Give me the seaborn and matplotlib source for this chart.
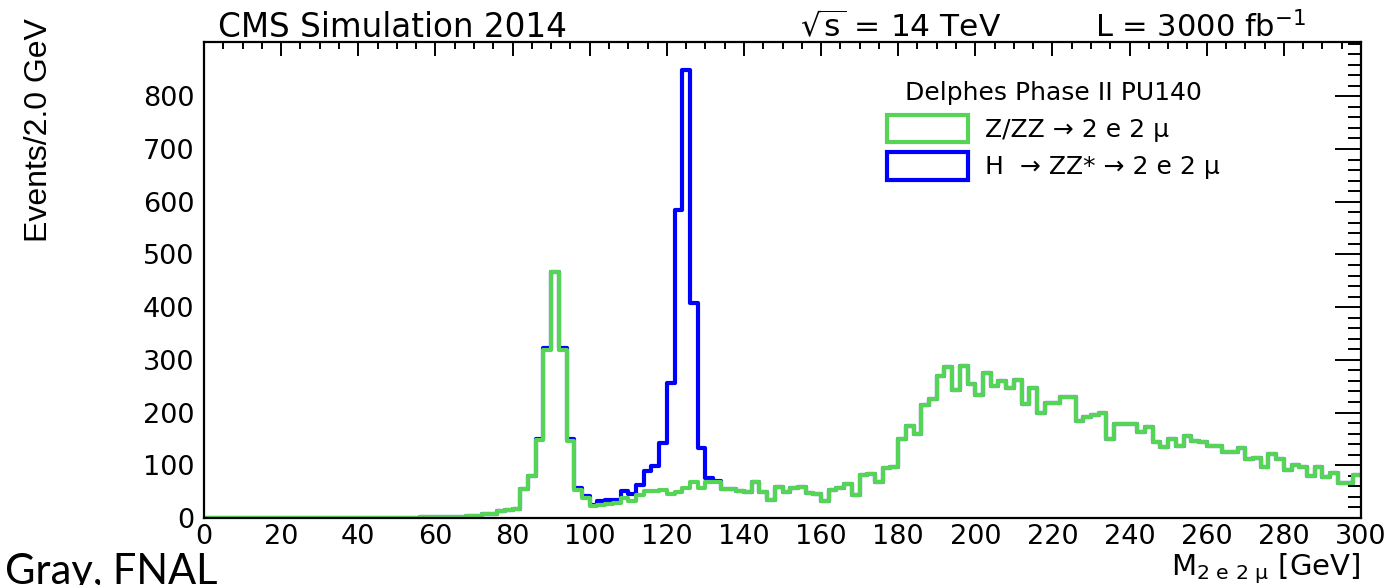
import numpy as np
import pandas as pd
import matplotlib
matplotlib.use("Agg")
import matplotlib.pyplot as plt
from matplotlib.patches import Patch
from matplotlib.ticker import MultipleLocator
import seaborn as sns

# 2 GeV bins from 0 to 300
edges = np.arange(0, 302, 2)

# Z/ZZ -> 2e2mu background, events per bin
zz_bkg = [0, 0, 0, 0, 0, 0, 0, 0, 0, 0,
          0, 0, 0, 0, 0, 0, 0, 0, 0, 0,
          0, 0, 0, 0, 0, 0.5, 0.5, 0.5, 1, 1,
          1, 1, 1.5, 2, 3, 3, 7, 8, 13, 15,
          18, 55, 80, 148, 318, 467, 318, 146, 54, 38,
          22, 25, 26, 28, 37, 33, 43, 52, 52, 54,
          46, 49, 57, 68, 57, 68, 68, 55, 55, 52,
          50, 69, 50, 34, 58, 50, 56, 58, 47, 46,
          33, 54, 56, 64, 44, 81, 84, 69, 95, 97,
          150, 175, 159, 214, 225, 269, 286, 242, 289, 254,
          233, 275, 250, 260, 247, 261, 216, 247, 200, 219,
          219, 229, 229, 184, 192, 195, 200, 150, 179, 179,
          179, 164, 172, 144, 134, 150, 137, 156, 147, 144,
          136, 136, 126, 125, 132, 111, 113, 97, 122, 111,
          91, 100, 96, 79, 96, 78, 86, 67, 67, 81]

# H -> ZZ* -> 2e2mu signal, stacked on top of the background
h_sig = ([0] * 40 +
         [0, 0, 0, 2, 4, 0, 4, 3, 3, 3,
          2, 8, 9, 7, 15, 13, 20, 37, 46, 88,
          210, 536, 792, 340, 75, 8, 2, 0, 0, 0] +
         [0] * 80)

centers = (edges[:-1] + edges[1:]) / 2
df = pd.DataFrame({"mass": centers, "zz": zz_bkg, "h": h_sig})
df["total"] = df.zz + df.h

green = "#56d456"
blue = "#0000ff"
W, H = 1395, 585

sns.set_style("white")
plt.rcParams["font.family"] = ["DejaVu Sans"]
plt.rcParams["mathtext.default"] = "regular"
for k in ["text.color", "axes.labelcolor", "xtick.color", "ytick.color"]:
    plt.rcParams[k] = "black"

fig = plt.figure(figsize=(W / 100, H / 100), dpi=100)
ax = fig.add_axes([204 / W, 1 - 518 / H, (1361 - 204) / W, (518 - 42) / H])

sns.histplot(data=df, x="mass", weights="total", binwidth=2, binrange=(0, 300),
             element="step", fill=False, color=blue, linewidth=3, ax=ax)
sns.histplot(data=df, x="mass", weights="zz", binwidth=2, binrange=(0, 300),
             element="step", fill=False, color=green, linewidth=3, ax=ax)

ax.set_xlim(0, 300)
ax.set_ylim(0, 903)
ax.set_xlabel("")
ax.set_ylabel("")
ax.xaxis.set_major_locator(MultipleLocator(20))
ax.xaxis.set_minor_locator(MultipleLocator(5))
ax.set_yticks(np.arange(0, 900, 100))
ax.yaxis.set_minor_locator(MultipleLocator(20))
ax.tick_params(which="both", direction="in", top=True, right=True,
               width=1.4, color="black", labelsize=19.5)
ax.tick_params(axis="x", which="major", length=10, pad=4)
ax.tick_params(axis="x", which="minor", length=5)
ax.tick_params(axis="y", which="major", length=19, pad=7)
ax.tick_params(axis="y", which="minor", length=9.5)
for s in ax.spines.values():
    s.set_linewidth(1.6)
    s.set_color("black")

# header texts
fig.text(218 / W, 1 - 37 / H, "CMS Simulation 2014", fontsize=23.5, va="baseline")
fig.text(800 / W, 1 - 37 / H, r"$\sqrt{s}$ = 14 TeV", fontsize=22.5, va="baseline")
fig.text(1095 / W, 1 - 37 / H, "L = 3000 fb$^{-1}$", fontsize=22, va="baseline")

# axis titles
fig.text(39 / W, 1 - 18 / H, "Events/2.0 GeV", rotation=90, fontsize=23,
         ha="center", va="top", family=["Liberation Sans", "DejaVu Sans"])
fig.text(1360 / W, 1 - 575 / H, r"M$_{2\ e\ 2\ μ}$ [GeV]", fontsize=21,
         ha="right", va="baseline")
fig.text(5 / W, 1 - 553 / H, "Gray, FNAL", fontsize=30, va="top",
         family=["Lato", "DejaVu Sans"])

handles = [Patch(facecolor="none", edgecolor=green, linewidth=3,
                 label="Z/ZZ → 2 e 2 μ"),
           Patch(facecolor="none", edgecolor=blue, linewidth=3,
                 label="H  → ZZ* → 2 e 2 μ")]
ax.legend(handles=handles, title="Delphes Phase II PU140", loc="upper left",
          bbox_to_anchor=(887 / W, 1 - 81 / H), bbox_transform=fig.transFigure,
          frameon=False, fontsize=18, title_fontsize=18, borderpad=0,
          borderaxespad=0, handlelength=3.24, handleheight=1.3,
          handletextpad=0.68, labelspacing=0.4)

fig.savefig("out.png", dpi=100)
